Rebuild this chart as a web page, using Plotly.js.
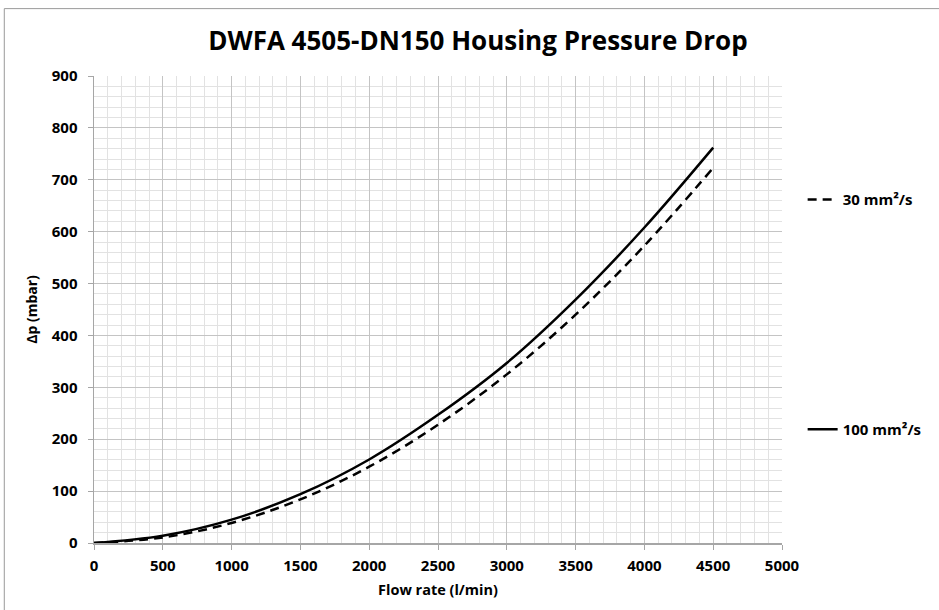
<!DOCTYPE html>
<html>
<head>
<meta charset="utf-8">
<script src="https://cdn.plot.ly/plotly-3.0.1.min.js"></script>
<style>
html,body{margin:0;padding:0;background:#fff;overflow:hidden;}
#chart{width:939px;height:610px;}
</style>
</head>
<body>
<div id="chart"></div>
<script>
// Flow rate (l/min)
const flowRate = [0, 500, 1000, 1500, 2000, 2500, 3000, 3500, 4000, 4500];
// Δp (mbar) for 30 mm²/s (dashed)
const dp30 = [0, 10.6, 38.7, 84, 147, 228, 325, 440, 573, 723];
// Δp (mbar) for 100 mm²/s (solid)
const dp100 = [0, 14, 45, 94, 161, 247, 347, 469, 608, 762];

const seriesNames = ["30 mm²/s", "100 mm²/s"];
const chartTitle = "DWFA 4505-DN150 Housing Pressure Drop";
const xTitle = "Flow rate (l/min)";
const yTitle = "Δp (mbar)";

const FONT = "Open Sans, Liberation Sans, sans-serif";

const traces = [
  {
    x: flowRate, y: dp30, name: seriesNames[0], mode: "lines",
    line: {color: "#000", width: 2.5, dash: "9px,6px", shape: "spline"},
    legend: "legend"
  },
  {
    x: flowRate, y: dp100, name: seriesNames[1], mode: "lines",
    line: {color: "#000", width: 2.5, shape: "spline"},
    legend: "legend2"
  }
];

const layout = {
  width: 939, height: 610,
  margin: {l: 94, r: 157, t: 76, b: 67},
  paper_bgcolor: "#fff", plot_bgcolor: "#fff",
  font: {family: FONT, color: "#000"},
  title: {
    text: "<b>" + chartTitle + "</b>",
    font: {family: FONT, size: 26, color: "#000"},
    xref: "container", yref: "container",
    x: 0.509, xanchor: "center", y: 0.933, yanchor: "middle"
  },
  xaxis: {
    range: [0, 5000], dtick: 500, tick0: 0,
    showgrid: true, gridcolor: "#c4c4c4", gridwidth: 1,
    minor: {dtick: 100, showgrid: true, gridcolor: "#e2e2e2", gridwidth: 1},
    showline: true, linecolor: "#a6a6a6", linewidth: 1.5,
    ticks: "outside", ticklen: 5, tickcolor: "#a6a6a6",
    tickfont: {family: FONT, size: 15, color: "#000", weight: "bold"},
    ticklabelstandoff: 3,
    zeroline: false,
    title: {text: "<b>" + xTitle + "</b>", font: {family: FONT, size: 14.5, color: "#000"}, standoff: 11}
  },
  yaxis: {
    range: [0, 900], dtick: 100, tick0: 0,
    showgrid: true, gridcolor: "#c4c4c4", gridwidth: 1,
    minor: {dtick: 20, showgrid: true, gridcolor: "#e2e2e2", gridwidth: 1},
    showline: true, linecolor: "#a6a6a6", linewidth: 1.5,
    ticks: "outside", ticklen: 5, tickcolor: "#a6a6a6",
    tickfont: {family: FONT, size: 15, color: "#000", weight: "bold"},
    ticklabelstandoff: 7,
    zeroline: false,
    title: {text: "<b>" + yTitle + "</b>", font: {family: FONT, size: 14, color: "#000"}, standoff: 11}
  },
  showlegend: true,
  legend: {
    x: 1.03, xanchor: "left", y: 0.735, yanchor: "middle",
    bgcolor: "rgba(0,0,0,0)", borderwidth: 0,
    font: {family: FONT, size: 15, color: "#000", weight: "bold"},
    itemwidth: 30
  },
  legend2: {
    x: 1.03, xanchor: "left", y: 0.243, yanchor: "middle",
    bgcolor: "rgba(0,0,0,0)", borderwidth: 0,
    font: {family: FONT, size: 15, color: "#000", weight: "bold"},
    itemwidth: 30
  },
  shapes: [{
    type: "rect", xref: "paper", yref: "paper",
    x0: -0.1304, x1: 1.3, y0: -0.3, y1: 1.1443,
    line: {color: "#9a9a9a", width: 1}, fillcolor: "rgba(0,0,0,0)", layer: "below"
  }]
};

Plotly.newPlot("chart", traces, layout, {displayModeBar: false, staticPlot: true});
</script>
</body>
</html>
